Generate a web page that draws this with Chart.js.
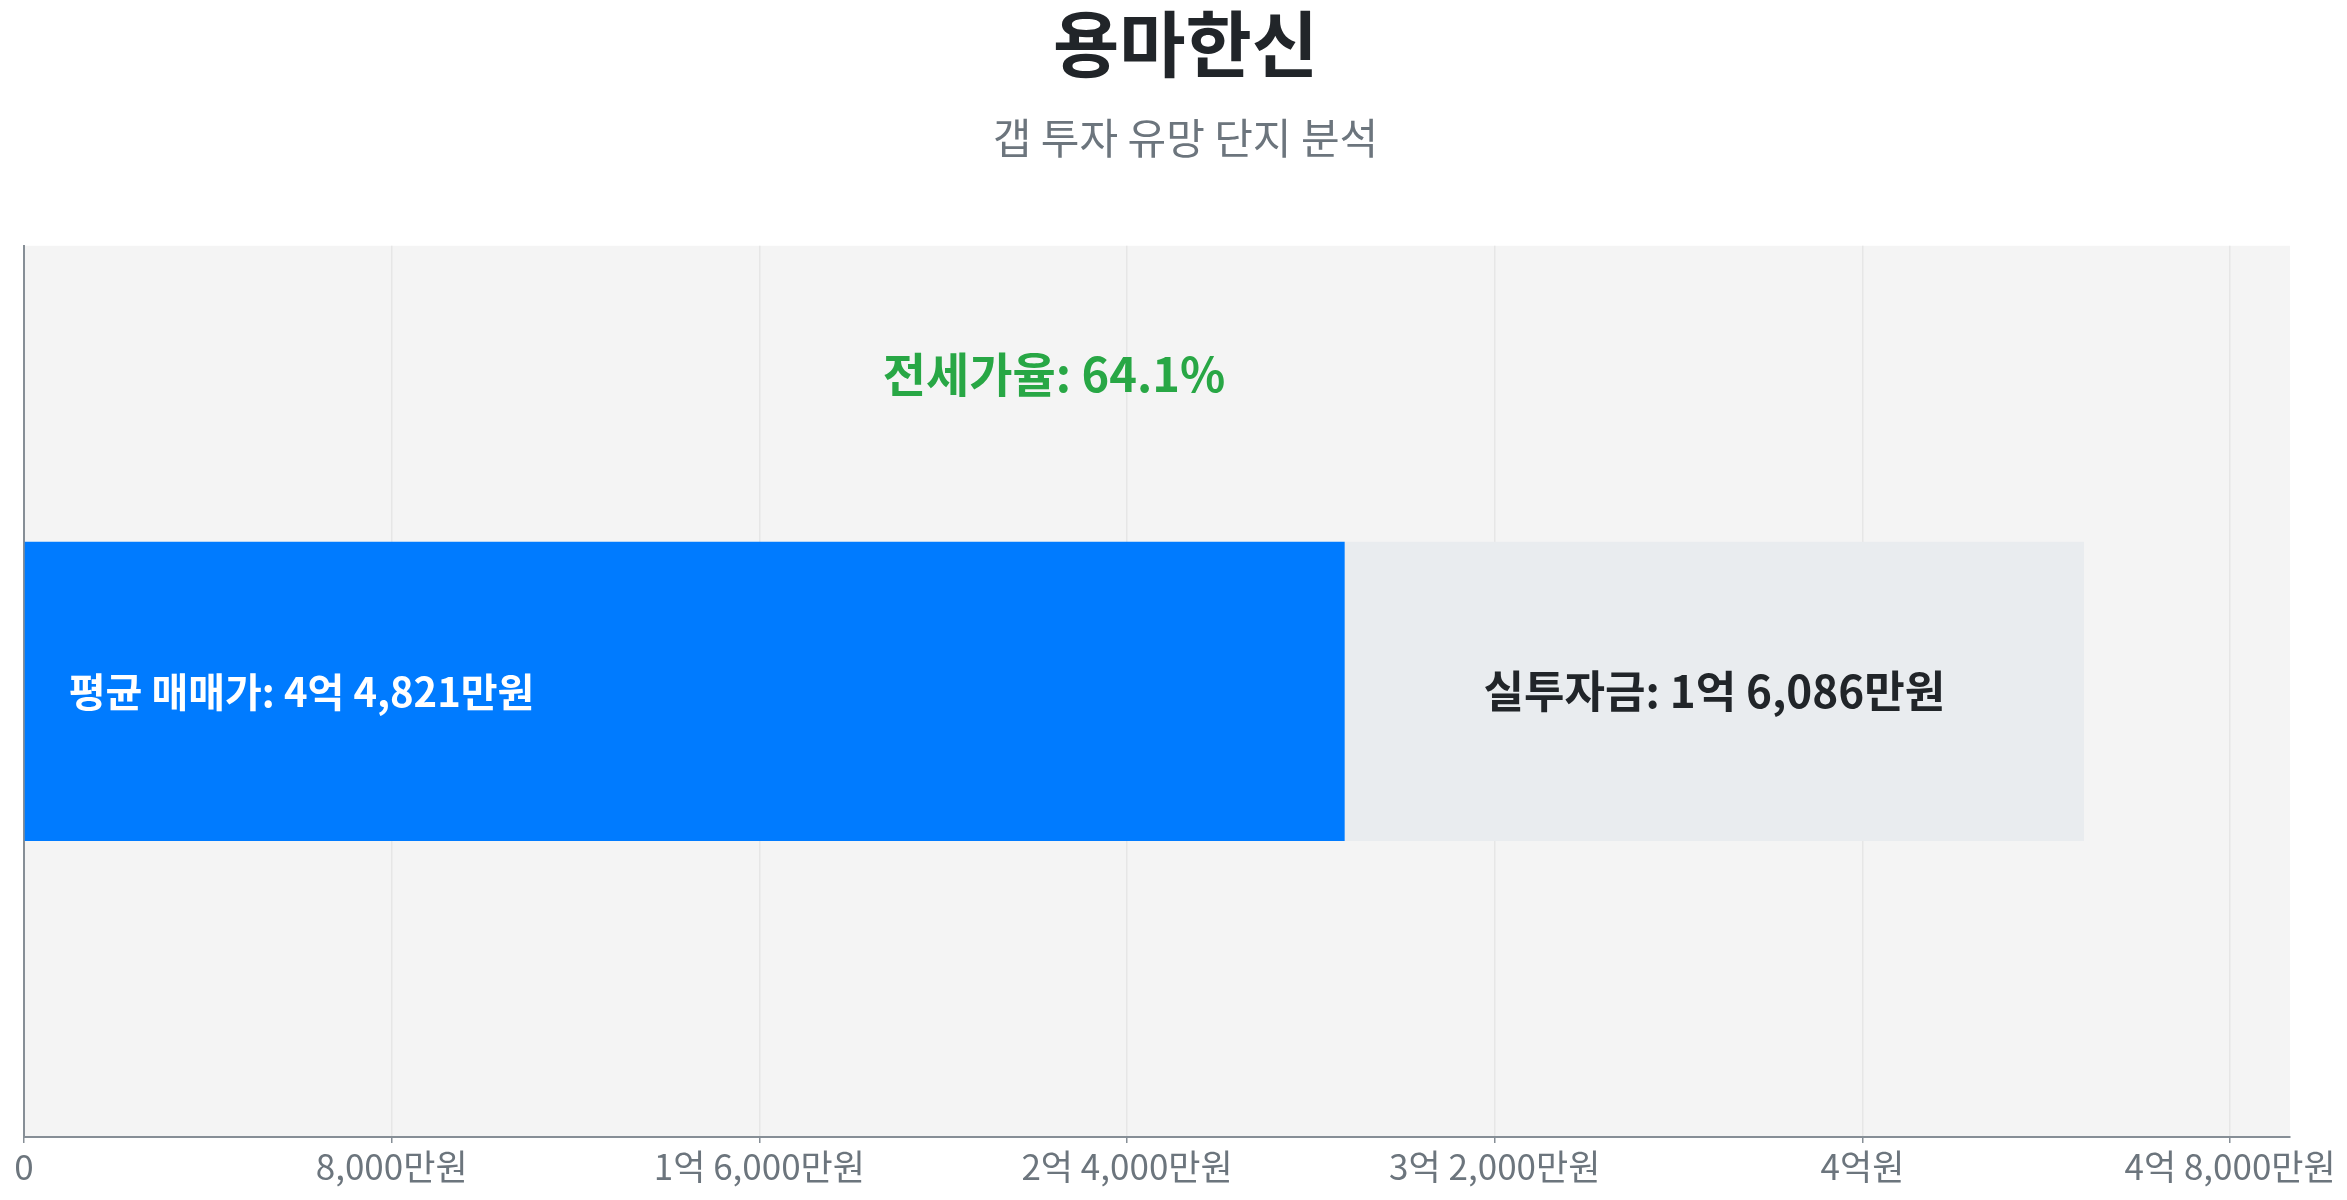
<!DOCTYPE html>
<html>
<head>
<meta charset="utf-8">
<script src="https://cdn.jsdelivr.net/npm/chart.js@4"></script>
<style>
  html, body { margin: 0; padding: 0; background: #fff; }
  #wrap { width: 2347px; height: 1200px; }
</style>
</head>
<body>
<div id="wrap"><canvas id="myChart"></canvas></div>
<script>
// values in 만원
const complexName = '용마한신';
const subTitle = '갭 투자 유망 단지 분석';
const categories = ['용마한신'];
const jeonsePrice = [28735];
const gapAmount = [16086];
const salePrice = 44821;
const jeonseRatio = 64.1;
const xTicks = [0, 8000, 16000, 24000, 32000, 40000, 48000];
const axisMax = 49303;

const FONT = "'Noto Sans CJK KR', 'Noto Sans', sans-serif";

// 44821 -> "4억 4,821만원"
formatWon = (v) => {
    if (v === 0) return '0';
    const eok = Math.floor(v / 10000);
    const man = v % 10000;
    if (eok === 0) return man.toLocaleString() + '만원';
    if (man === 0) return eok + '억원';
    return eok + '억 ' + man.toLocaleString() + '만원';
};

const areaBg = {
    id: 'areaBg',
    beforeDraw(chart) {
        const a = chart.chartArea;
        const c = chart.ctx;
        c.save();
        c.fillStyle = '#f4f4f4';
        c.fillRect(a.left, a.top, a.right - a.left, a.bottom - a.top);
        c.restore();
    }
};

const barText = {
    id: 'barText',
    afterDatasetsDraw(chart) {
        const c = chart.ctx;
        const x = chart.scales.x;
        const a = chart.chartArea;
        const b0 = chart.getDatasetMeta(0).data[0];
        const b1 = chart.getDatasetMeta(1).data[0];
        c.save();
        c.textBaseline = 'middle';

        c.font = 'bold 40px ' + FONT;
        c.fillStyle = '#ffffff';
        c.textAlign = 'left';
        c.fillText('평균 매매가: ' + formatWon(salePrice), b0.base + 44, b0.y);

        c.font = 'bold 44px ' + FONT;
        c.fillStyle = '#212529';
        c.textAlign = 'center';
        c.fillText('실투자금: ' + formatWon(gapAmount[0]), (b1.base + b1.x) / 2, b1.y);

        const barTop = b0.y - b0.height / 2;
        c.font = 'bold 47px ' + FONT;
        c.fillStyle = '#28a745';
        c.fillText('전세가율: ' + jeonseRatio + '%', x.getPixelForValue(salePrice / 2), a.top + (barTop - a.top) * 0.435);
        c.restore();
    }
};

var ctx = document.getElementById('myChart');
var chart = new Chart(ctx, {
    type: 'bar',
    data: {
        labels: categories,
        datasets: [
            {
                label: '전세가',
                data: jeonsePrice,
                backgroundColor: '#007bff',
                categoryPercentage: 1,
                barPercentage: 0.336
            },
            {
                label: '실투자금',
                data: gapAmount,
                backgroundColor: '#e9ecef',
                categoryPercentage: 1,
                barPercentage: 0.336
            }
        ]
    },
    options: {
        indexAxis: 'y',
        responsive: true,
        maintainAspectRatio: false,
        animation: false,
        devicePixelRatio: 1,
        layout: {
            padding: { left: 24, right: 0, top: 0, bottom: 9 }
        },
        plugins: {
            legend: { display: false },
            tooltip: { enabled: false },
            title: {
                display: true,
                text: complexName,
                color: '#212529',
                font: { family: FONT, size: 72, weight: 'bold' },
                padding: { top: 0, bottom: 0 }
            },
            subtitle: {
                display: true,
                text: subTitle,
                color: '#6c757d',
                font: { family: FONT, size: 42, weight: 'normal' },
                padding: { top: 26, bottom: 83 }
            }
        },
        scales: {
            x: {
                stacked: true,
                min: 0,
                max: axisMax,
                afterBuildTicks: (axis) => {
                    axis.ticks = xTicks.map((v) => ({ value: v }));
                },
                // room for the last tick label on the right
                afterFit: (axis) => {
                    axis.paddingRight = 57;
                },
                grid: {
                    color: '#e6e6e6',
                    lineWidth: 1.5,
                    tickColor: '#868e96',
                    tickLength: 6
                },
                border: { color: '#868e96', width: 2 },
                ticks: {
                    color: '#6c757d',
                    padding: 3,
                    maxRotation: 0,
                    autoSkip: false,
                    font: { family: FONT, size: 35 },
                    callback: (v) => formatWon(v)
                }
            },
            y: {
                stacked: true,
                grid: { display: true, drawOnChartArea: false, drawTicks: false },
                border: { color: '#868e96', width: 2 },
                ticks: { display: false }
            }
        }
    },
    plugins: [areaBg, barText]
});
</script>
</body>
</html>
